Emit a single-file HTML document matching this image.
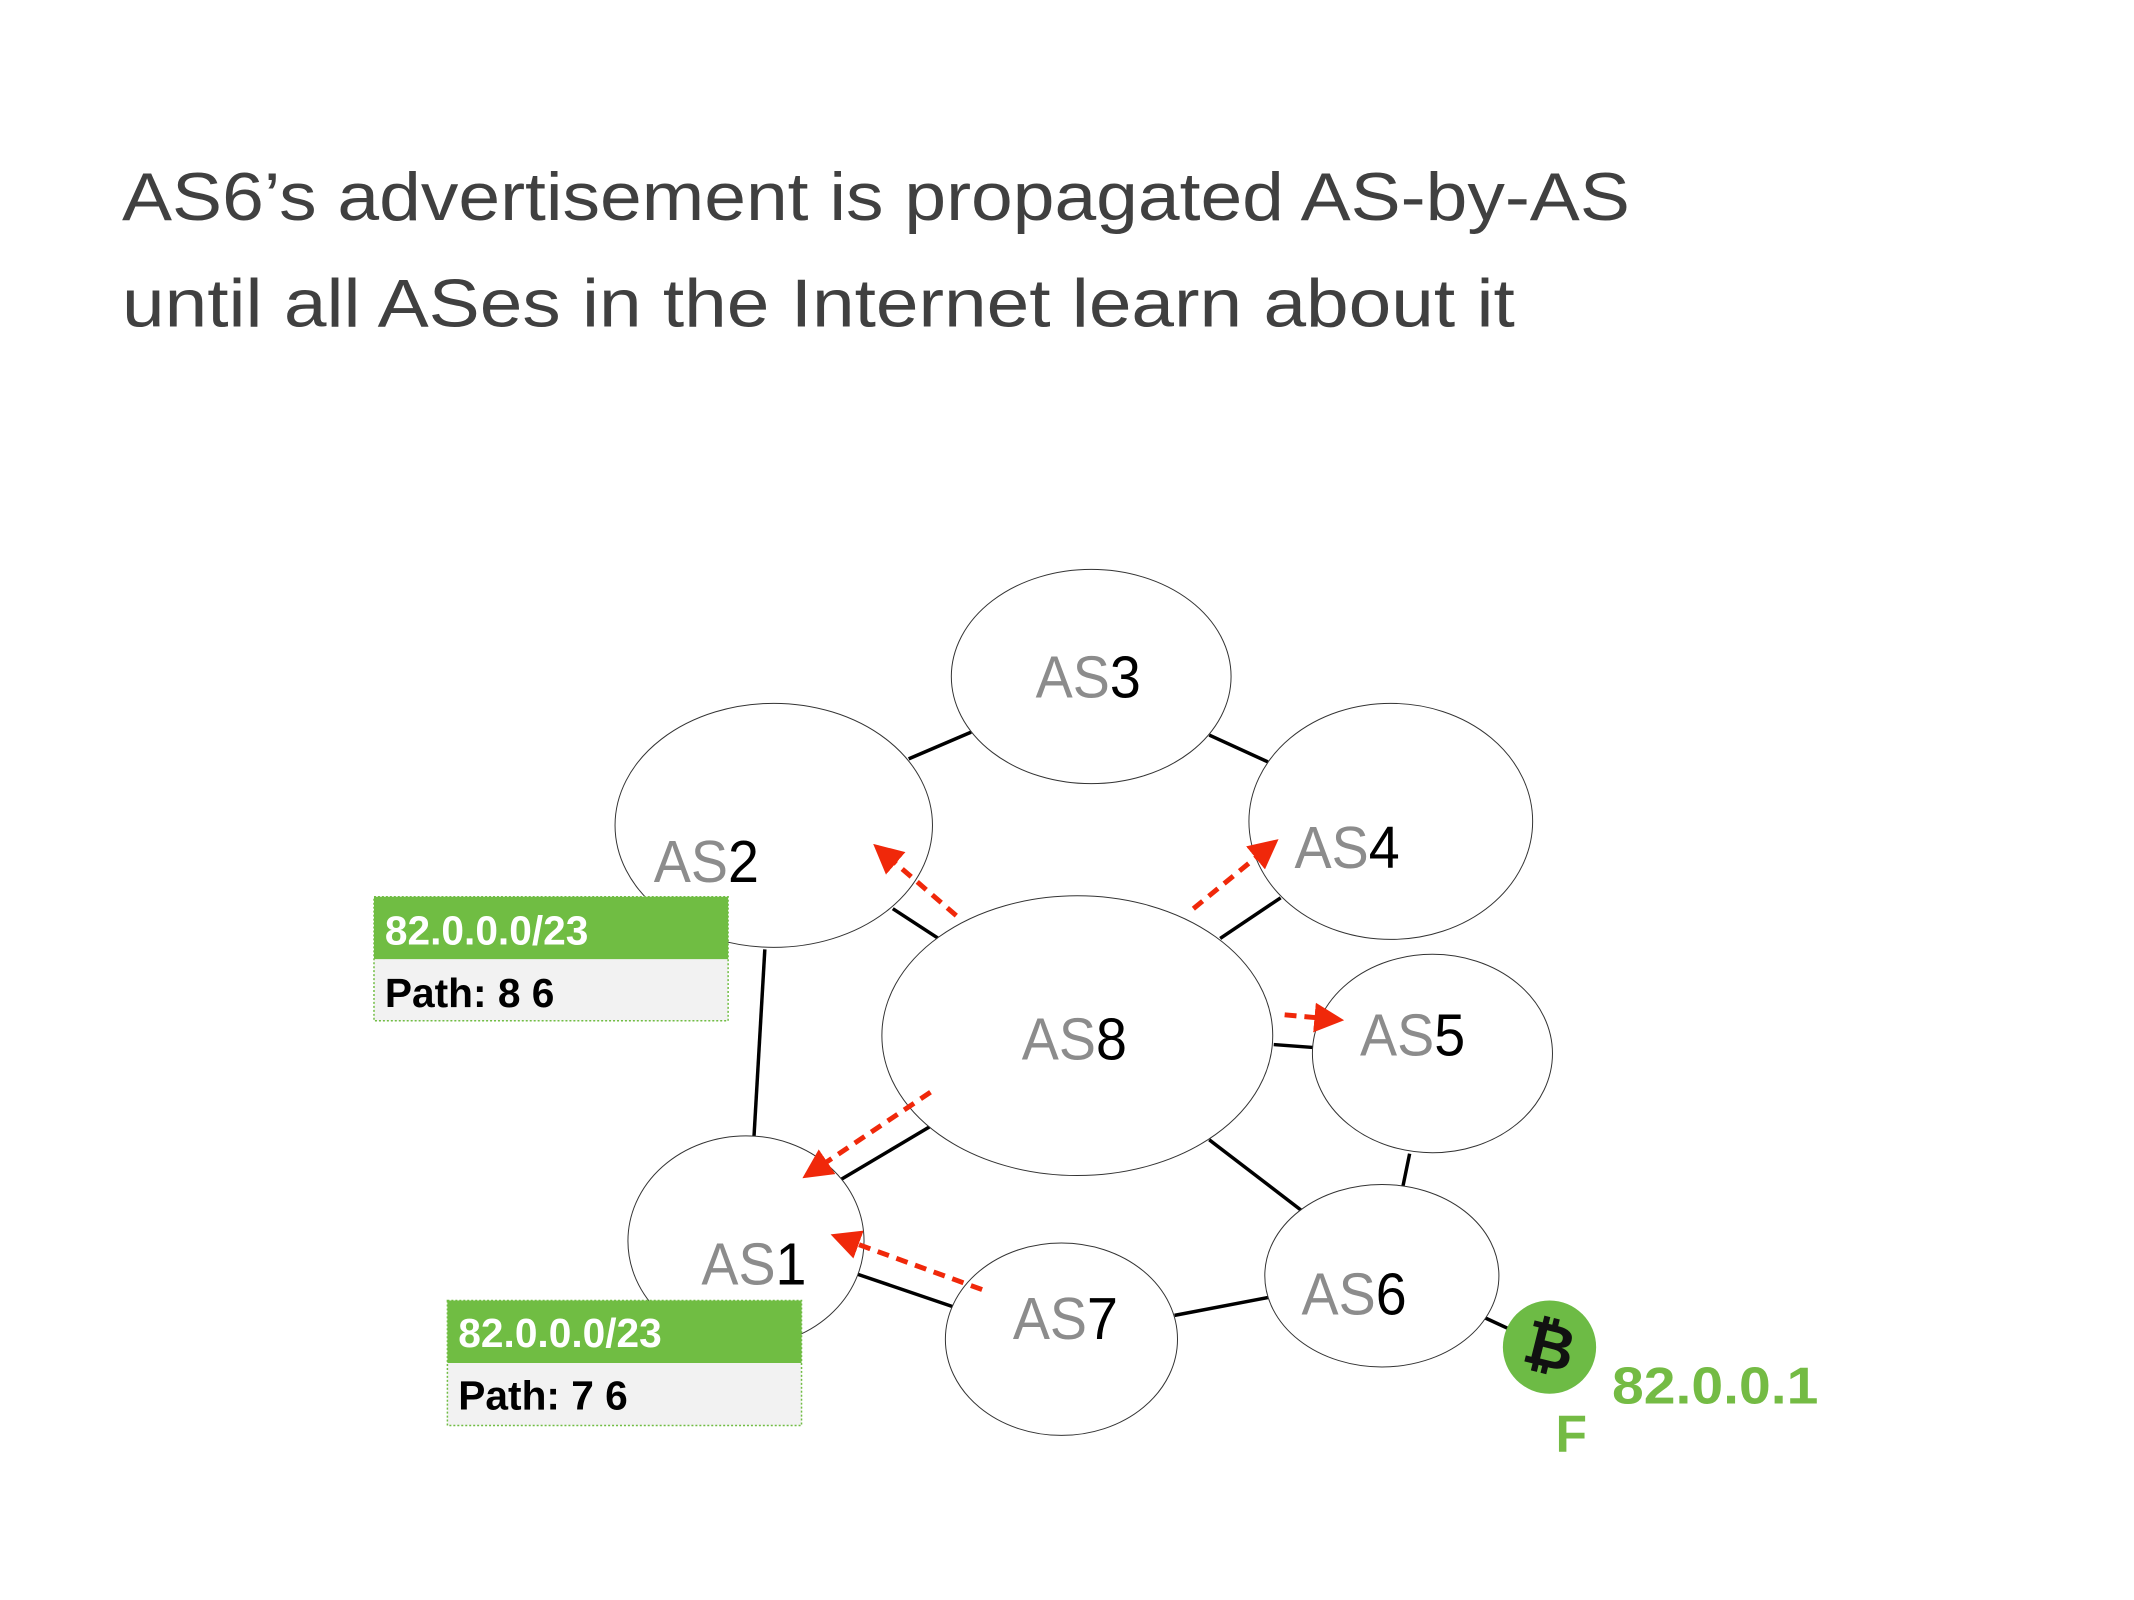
<!DOCTYPE html>
<html><head><meta charset="utf-8"><style>
html,body{margin:0;padding:0;background:#fff;}
svg{display:block;}
</style></head><body>
<svg width="2134" height="1600" viewBox="0 0 2134 1600" xmlns="http://www.w3.org/2000/svg" font-family="'Liberation Sans', sans-serif">
<rect width="2134" height="1600" fill="#fff"/>
<g transform="scale(0.992)">
<text x="123" y="222" font-size="68" fill="#404040" textLength="1520" lengthAdjust="spacingAndGlyphs">AS6’s advertisement is propagated AS-by-AS</text>
<text x="123" y="329" font-size="68" fill="#404040" textLength="1404" lengthAdjust="spacingAndGlyphs">until all ASes in the Internet learn about it</text>

<g stroke="#000" stroke-width="3.5">
<line x1="916" y1="765" x2="979" y2="738"/>
<line x1="1219" y1="741" x2="1278" y2="768"/>
<line x1="900" y1="916" x2="946" y2="946"/>
<line x1="1230" y1="946" x2="1291" y2="905"/>
<line x1="1284" y1="1053" x2="1325" y2="1056"/>
<line x1="771" y1="957" x2="760" y2="1147"/>
<line x1="846" y1="1190" x2="937" y2="1136"/>
<line x1="1219" y1="1149" x2="1313" y2="1221"/>
<line x1="1421" y1="1163" x2="1414" y2="1197"/>
<line x1="863" y1="1284" x2="960" y2="1317"/>
<line x1="1184" y1="1326" x2="1278" y2="1308"/>
<line x1="1496" y1="1328" x2="1522" y2="1340"/>
</g>

<g fill="#fff" stroke="#333" stroke-width="1">
<ellipse cx="1100" cy="682" rx="141" ry="108"/>
<ellipse cx="780" cy="832" rx="160" ry="123"/>
<ellipse cx="1402" cy="828" rx="143" ry="119"/>
<ellipse cx="1444" cy="1062" rx="121" ry="100"/>
<ellipse cx="752" cy="1251" rx="119" ry="106"/>
<ellipse cx="1070" cy="1350" rx="117" ry="97"/>
<ellipse cx="1393" cy="1286" rx="118" ry="92"/>
<ellipse cx="1086" cy="1044" rx="197" ry="141"/>
</g>

<g font-size="60" text-anchor="middle">
<text x="1097" y="703" textLength="106" lengthAdjust="spacingAndGlyphs"><tspan fill="#8c8c8c">AS</tspan><tspan fill="#000">3</tspan></text>
<text x="712" y="889" textLength="106" lengthAdjust="spacingAndGlyphs"><tspan fill="#8c8c8c">AS</tspan><tspan fill="#000">2</tspan></text>
<text x="1358" y="875" textLength="106" lengthAdjust="spacingAndGlyphs"><tspan fill="#8c8c8c">AS</tspan><tspan fill="#000">4</tspan></text>
<text x="1083" y="1068" textLength="106" lengthAdjust="spacingAndGlyphs"><tspan fill="#8c8c8c">AS</tspan><tspan fill="#000">8</tspan></text>
<text x="1424" y="1064" textLength="106" lengthAdjust="spacingAndGlyphs"><tspan fill="#8c8c8c">AS</tspan><tspan fill="#000">5</tspan></text>
<text x="760" y="1295" textLength="106" lengthAdjust="spacingAndGlyphs"><tspan fill="#8c8c8c">AS</tspan><tspan fill="#000">1</tspan></text>
<text x="1074" y="1350" textLength="106" lengthAdjust="spacingAndGlyphs"><tspan fill="#8c8c8c">AS</tspan><tspan fill="#000">7</tspan></text>
<text x="1365" y="1325" textLength="106" lengthAdjust="spacingAndGlyphs"><tspan fill="#8c8c8c">AS</tspan><tspan fill="#000">6</tspan></text>
</g>

<defs>
<marker id="ah" markerWidth="6" markerHeight="6" refX="5" refY="3" orient="auto" markerUnits="strokeWidth">
<path d="M0,0 L6,3 L0,6 Z" fill="#f0280a"/>
</marker>
</defs>
<g stroke="#f0280a" stroke-width="5" stroke-dasharray="12,8" fill="none" marker-end="url(#ah)">
<line x1="964" y1="923" x2="884" y2="854"/>
<line x1="1203" y1="916" x2="1285" y2="849"/>
<line x1="1295" y1="1023" x2="1350" y2="1028"/>
<line x1="938" y1="1101" x2="813" y2="1185"/>
<line x1="990" y1="1300" x2="842" y2="1246"/>
</g>

<rect x="377" y="904" width="357" height="63" fill="#70bd43"/>
<rect x="377" y="967" width="357" height="62" fill="#f2f2f2"/>
<rect x="377" y="904" width="357" height="125" fill="none" stroke="#70bd43" stroke-width="1.5" stroke-dasharray="2,2"/>
<text x="388" y="952" font-size="41" font-weight="bold" fill="#fff">82.0.0.0/23</text>
<text x="388" y="1015" font-size="41" font-weight="bold" fill="#000">Path: 8 6</text>

<rect x="451" y="1311" width="357" height="63" fill="#70bd43"/>
<rect x="451" y="1374" width="357" height="63" fill="#f2f2f2"/>
<rect x="451" y="1311" width="357" height="126" fill="none" stroke="#70bd43" stroke-width="1.5" stroke-dasharray="2,2"/>
<text x="462" y="1358" font-size="41" font-weight="bold" fill="#fff">82.0.0.0/23</text>
<text x="462" y="1421" font-size="41" font-weight="bold" fill="#000">Path: 7 6</text>

<circle cx="1562" cy="1358" r="47" fill="#6dbb45"/>
<text x="1562" y="1378" font-size="62" font-weight="bold" fill="#111" text-anchor="middle" transform="rotate(14 1562 1358)">₿</text>
<text x="1625" y="1415" font-size="52" font-weight="bold" fill="#74bb44" textLength="208" lengthAdjust="spacingAndGlyphs">82.0.0.1</text>
<text x="1568" y="1463" font-size="52" font-weight="bold" fill="#74bb44">F</text>
</g>
</svg>
</body></html>
